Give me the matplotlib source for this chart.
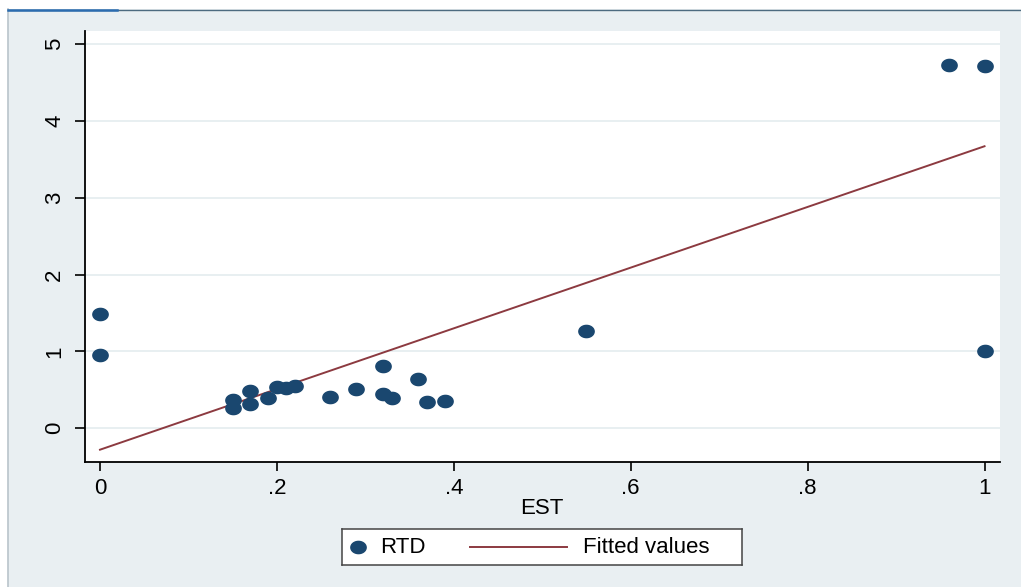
import numpy as np
import matplotlib
matplotlib.use("Agg")
import matplotlib.pyplot as plt
from matplotlib.path import Path
from matplotlib.patches import Rectangle
from matplotlib.lines import Line2D

plt.rcParams['font.family'] = ['Liberation Sans', 'DejaVu Sans']

# Observations
est = [0.00, 0.00, 0.15, 0.15, 0.17, 0.17, 0.19, 0.20, 0.21, 0.22, 0.26,
       0.29, 0.32, 0.32, 0.33, 0.36, 0.37, 0.39, 0.55, 0.96, 1.00, 1.00]
rtd = [1.49, 0.95, 0.37, 0.26, 0.485, 0.32, 0.39, 0.54, 0.52, 0.545, 0.40,
       0.51, 0.81, 0.44, 0.39, 0.645, 0.34, 0.355, 1.27, 4.73, 4.72, 1.01]

# Fitted values line (end points)
fit_x = [0.0, 1.0]
fit_y = [-0.28, 3.67]

x_ticks = [0, 0.2, 0.4, 0.6, 0.8, 1.0]
x_ticklabels = ['0', '.2', '.4', '.6', '.8', '1']
y_ticks = [0, 1, 2, 3, 4, 5]
y_ticklabels = ['0', '1', '2', '3', '4', '5']

W, H = 1021, 587
NAVY = '#1a476f'
MAROON = '#8c3a40'
BG = '#e9eff2'
GRID = '#e4ecef'
FS = 16

# slightly flattened dot marker
t = np.linspace(0, 2 * np.pi, 60)
dot = Path(np.column_stack([np.cos(t), 0.8 * np.sin(t)]), closed=True)

fig = plt.figure(figsize=(W / 100, H / 100), dpi=100, facecolor='white')

def fx(px):
    return px / W

def fy(py):
    return 1 - py / H

# graph region background and window frame
fig.patches.append(Rectangle((fx(8), 0), 1 - fx(8), fy(9), transform=fig.transFigure,
                             facecolor=BG, edgecolor='none', zorder=-10))
fig.lines.append(Line2D([fx(8), fx(8)], [0, fy(9)], transform=fig.transFigure,
                        color='#b9c4cb', lw=1.2, zorder=-5))
fig.lines.append(Line2D([fx(8), 1], [fy(9.5), fy(9.5)], transform=fig.transFigure,
                        color='#4d6b80', lw=1.0, zorder=-5))
fig.lines.append(Line2D([fx(8), fx(117)], [fy(9.5), fy(9.5)], transform=fig.transFigure,
                        color='#2b6cb0', lw=1.8, zorder=-4))

ax = fig.add_axes([fx(84.5), fy(462), fx(1000) - fx(84.5), fy(31) - fy(462)])
ax.set_facecolor('white')

ax.plot(est, rtd, linestyle='none', marker=dot, markersize=11,
        color=NAVY, markeredgecolor=NAVY, zorder=3)
ax.plot(fit_x, fit_y, color=MAROON, lw=1.4, zorder=2)

ax.set_xlim(-0.0175, 1.0175)
ax.set_ylim(-0.44, 5.17)
ax.set_xticks(x_ticks)
ax.set_xticklabels(x_ticklabels)
ax.set_yticks(y_ticks)
ax.set_yticklabels(y_ticklabels, rotation=90, va='center')
ax.grid(axis='y', color=GRID, lw=1.2, zorder=0)
ax.set_axisbelow(True)

for s in ('top', 'right'):
    ax.spines[s].set_visible(False)
for s in ('left', 'bottom'):
    ax.spines[s].set_linewidth(1.3)
    ax.spines[s].set_color('black')

ax.tick_params(axis='x', length=6.5, width=1.2, labelsize=FS, pad=5)
ax.tick_params(axis='y', length=7, width=1.2, labelsize=FS, pad=7)
ax.set_xlabel('EST', fontsize=FS, labelpad=-1)

# legend box
lx0, ly0, lw_, lh_ = 342, 529, 400, 36
lax = fig.add_axes([fx(lx0), fy(ly0 + lh_), fx(lw_), lh_ / H])
lax.set_xlim(0, lw_)
lax.set_ylim(lh_, 0)
lax.set_xticks([])
lax.set_yticks([])
lax.set_facecolor('white')
for s in lax.spines.values():
    s.set_linewidth(1.1)
    s.set_color('#444444')
lax.plot([16], [18], linestyle='none', marker=dot, markersize=11,
         color=NAVY, markeredgecolor=NAVY)
lax.text(38, 18.5, 'RTD', fontsize=FS, va='center', ha='left')
lax.plot([128, 225], [18, 18], color=MAROON, lw=1.4)
lax.text(241, 18.5, 'Fitted values', fontsize=FS, va='center', ha='left')

fig.savefig('out.png', dpi=100, facecolor='white')
